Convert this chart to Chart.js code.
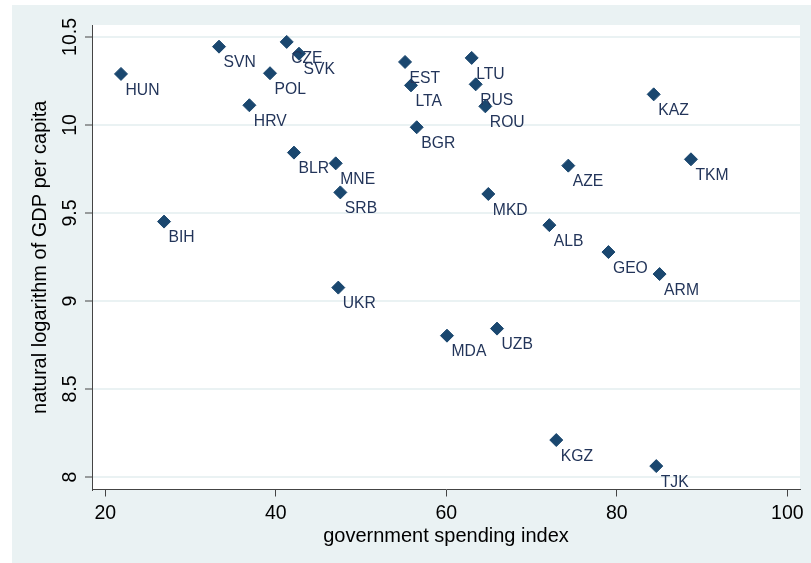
<!DOCTYPE html>
<html><head><meta charset="utf-8">
<script src="https://cdn.jsdelivr.net/npm/chart.js@4.4.1/dist/chart.umd.min.js"></script>
<style>html,body{margin:0;padding:0;background:#fff}#wrap{width:811px;height:563px}canvas{display:block}</style>
</head><body><div id="wrap"><canvas id="c" width="811" height="563"></canvas></div>
<script>
const countries = ["HUN","SVN","CZE","SVK","POL","HRV","BLR","MNE","SRB","BIH","UKR","EST","LTA","BGR","LTU","RUS","ROU","MKD","MDA","UZB","ALB","AZE","KGZ","GEO","ARM","TJK","KAZ","TKM"];
const spending = [21.84,33.34,41.28,42.72,39.32,36.90,42.13,47.03,47.57,26.89,47.33,55.16,55.86,56.53,62.98,63.45,64.58,64.93,60.08,65.95,72.09,74.31,72.90,79.02,85.02,84.63,84.33,88.70];
const lnGdp = [10.290,10.445,10.472,10.405,10.294,10.112,9.843,9.782,9.617,9.451,9.076,10.358,10.225,9.987,10.381,10.231,10.106,9.608,8.803,8.843,9.431,9.769,8.210,9.278,9.153,8.062,10.174,9.805];
const xTicks = [20,40,60,80,100];
const yTicks = [8,8.5,9,9.5,10,10.5];
const xTitle = "government spending index";
const yTitle = "natural logarithm of GDP per capita";

const FONT = "'Liberation Sans', Arial, Helvetica, sans-serif";
const NAVY = '#1a476f';
const LABEL = '#23355a';
const BG = '#eaf2f3';

const points = spending.map((x, i) => ({x: x, y: lnGdp[i]}));

const bgPlugin = {
  id: 'bg',
  beforeDraw(chart) {
    const ctx = chart.ctx, a = chart.chartArea;
    ctx.save();
    ctx.fillStyle = '#ffffff';
    ctx.fillRect(0, 0, chart.width, chart.height);
    ctx.fillStyle = BG;
    ctx.fillRect(12, 5, chart.width - 12, chart.height - 5);
    ctx.fillStyle = '#ffffff';
    ctx.fillRect(a.left, a.top, a.right - a.left, a.bottom - a.top);
    ctx.restore();
  }
};

const labelPlugin = {
  id: 'labels',
  afterDatasetsDraw(chart) {
    const ctx = chart.ctx;
    const xs = chart.scales.x, ys = chart.scales.y;
    ctx.save();
    ctx.font = '15.7px ' + FONT;
    ctx.fillStyle = LABEL;
    ctx.textAlign = 'left';
    ctx.textBaseline = 'alphabetic';
    countries.forEach((c, i) => {
      const px = xs.getPixelForValue(spending[i]);
      const py = ys.getPixelForValue(lnGdp[i]);
      ctx.fillText(c, px + 4.5, py + 20.8);
    });
    ctx.font = '19.5px ' + FONT;
    ctx.fillStyle = '#000';
    ctx.textAlign = 'center';
    yTicks.forEach(v => {
      const py = ys.getPixelForValue(v);
      ctx.save();
      ctx.translate(75.5, py);
      ctx.rotate(-Math.PI / 2);
      ctx.fillText(String(v), 0, 0);
      ctx.restore();
    });
    ctx.restore();
  }
};

new Chart(document.getElementById('c'), {
  type: 'scatter',
  data: {
    datasets: [{
      data: points,
      pointStyle: 'rectRot',
      pointRadius: 6.5,
      pointHoverRadius: 6.5,
      backgroundColor: NAVY,
      borderColor: NAVY,
      borderWidth: 1
    }]
  },
  options: {
    responsive: false,
    animation: false,
    devicePixelRatio: 1,
    layout: {padding: {left: 12, top: 25, right: 11, bottom: 0}},
    plugins: {legend: {display: false}, tooltip: {enabled: false}},
    scales: {
      x: {
        type: 'linear',
        min: 18.44, max: 101.49,
        afterBuildTicks: s => { s.ticks = xTicks.map(v => ({value: v})); },
        afterFit: s => { s.height = 73.5; },
        ticks: {font: {size: 19.5, family: FONT}, color: '#000', padding: 5, maxRotation: 0, autoSkip: false, callback: v => String(v)},
        grid: {drawOnChartArea: false, drawTicks: true, tickLength: 7, tickColor: '#444', tickWidth: 1},
        border: {display: true, color: '#444', width: 1},
        title: {display: true, text: xTitle, font: {size: 20, family: FONT}, color: '#000', padding: {top: 0, bottom: 15}}
      },
      y: {
        type: 'linear',
        min: 7.929, max: 10.568,
        afterBuildTicks: s => { s.ticks = yTicks.map(v => ({value: v})); },
        afterFit: s => { s.width = 80; },
        ticks: {display: false},
        grid: {color: BG, lineWidth: 2, drawTicks: true, tickLength: 7, tickColor: '#444', tickWidth: 1},
        border: {display: true, color: '#444', width: 1},
        title: {display: true, text: yTitle, font: {size: 20, family: FONT}, color: '#000', padding: {top: 16, bottom: 0}}
      }
    }
  },
  plugins: [bgPlugin, labelPlugin]
});
</script>
</body></html>
